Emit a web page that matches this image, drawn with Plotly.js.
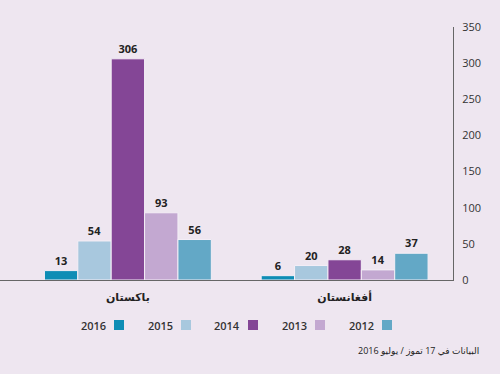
<!DOCTYPE html>
<html><head><meta charset="utf-8">
<script src="https://cdn.plot.ly/plotly-3.0.1.min.js"></script>
<style>html,body{margin:0;padding:0;background:#EEE6F0;}</style>
</head><body><div id="chart" style="width:500px;height:374px;"></div>
<script>
const countries = ["باكستان", "أفغانستان"];
const years = ["2016", "2015", "2014", "2013", "2012"];
const colors = ["#0E8DB5", "#A8C8DE", "#844696", "#C3A8D1", "#63A8C6"];
const v2016 = [13, 6];
const v2015 = [54, 20];
const v2014 = [306, 28];
const v2013 = [93, 14];
const v2012 = [56, 37];
const series = [v2016, v2015, v2014, v2013, v2012];
const footnote = "البيانات في 17 تموز / يوليو 2016";

const FONT = "Open Sans, DejaVu Sans, sans-serif";
const traces = series.map((vals, i) => ({
  type: "bar", x: countries, y: vals, name: years[i],
  marker: {color: colors[i], line: {color: "#F4EEF6", width: 1}},
  text: vals.map(String), texttemplate: "<b>%{text}</b>", textposition: "outside",
  textfont: {family: FONT, size: 11, color: "#222"}, cliponaxis: false,
  showlegend: false, hoverinfo: "skip"
}));

const annotations = [];
const shapes = [];
const legX0 = 108;
years.forEach((y, i) => {
  const xText = legX0 + i * 67;
  annotations.push({xref: "paper", yref: "paper", x: (xText) / 453, y: -45 / 253,
    text: y, showarrow: false, xanchor: "right", yanchor: "middle",
    font: {family: FONT, size: 11, color: "#333", weight: 600}});
  shapes.push({type: "rect", xref: "paper", yref: "paper",
    x0: (xText + 6) / 453, x1: (xText + 16) / 453,
    y0: -50 / 253, y1: -40 / 253, fillcolor: colors[i], line: {width: 0}});
});
annotations.push({xref: "paper", yref: "paper", x: 481 / 453, y: -70 / 253,
  text: footnote, showarrow: false, xanchor: "right", yanchor: "middle",
  font: {family: FONT, size: 9, color: "#222"}});

const layout = {
  width: 500, height: 374,
  margin: {l: 0, r: 47, t: 27, b: 94},
  paper_bgcolor: "#EEE6F0", plot_bgcolor: "#EEE6F0",
  barmode: "group", bargap: 0.23, bargroupgap: 0,
  font: {family: FONT},
  xaxis: {type: "category", range: [-0.59, 1.5], showline: true, linecolor: "#666", linewidth: 1,
    ticks: "", showgrid: false, zeroline: false, ticklabelstandoff: 7,
    tickfont: {family: FONT, size: 11, color: "#222", weight: "bold"}},
  yaxis: {side: "right", range: [0, 350], dtick: 50, showline: true, linecolor: "#666", linewidth: 1,
    ticks: "", showgrid: false, zeroline: false, ticklabelstandoff: 6,
    tickfont: {family: FONT, size: 11, color: "#333"}},
  annotations: annotations, shapes: shapes
};
Plotly.newPlot("chart", traces, layout, {staticPlot: true, displayModeBar: false});
</script></body></html>
